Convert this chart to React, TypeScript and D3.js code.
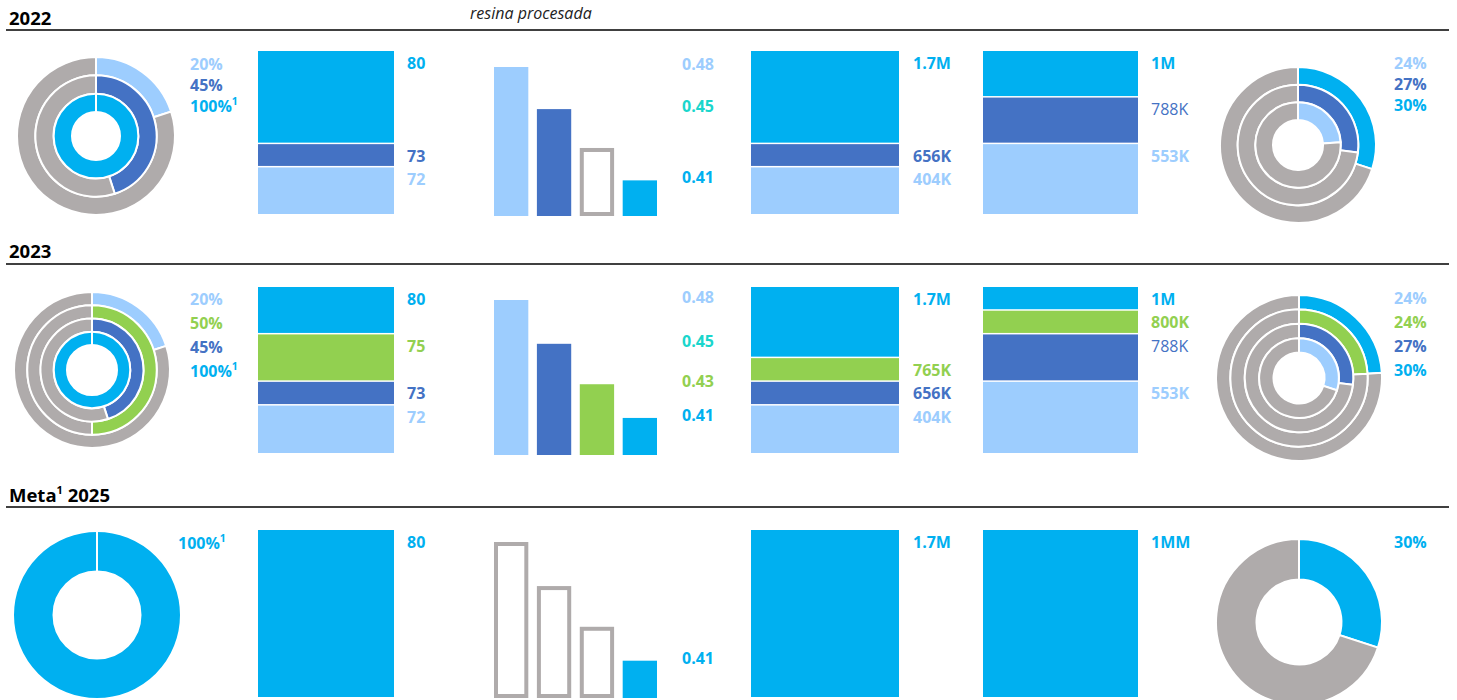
import React from 'react';
import * as d3 from 'd3';

// colours used across the dashboard
const COLORS: Record<string, string> = {
  light: '#9DCDFE',
  dark: '#4472C4',
  green: '#92D050',
  cyan: '#00B0F0',
  gray: '#AFABAB',
  teal: '#1AD6CC',
};

// column 1: ring donut (outer -> inner)
const c1Vals2022 = [20, 45, 100];
const c1Keys2022 = ['light', 'dark', 'cyan'];
const c1Vals2023 = [20, 50, 45, 100];
const c1Keys2023 = ['light', 'green', 'dark', 'cyan'];
const c1ValsMeta = [100];
const c1KeysMeta = ['cyan'];

// column 2: stacked blocks (top -> bottom), units of a 7 step grid
const c2Labels2022 = ['80', '73', '72'];
const c2Units2022 = [4, 1, 2];
const c2Keys2022 = ['cyan', 'dark', 'light'];
const c2Labels2023 = ['80', '75', '73', '72'];
const c2Units2023 = [2, 2, 1, 2];
const c2Keys2023 = ['cyan', 'green', 'dark', 'light'];
const c2LabelsMeta = ['80'];
const c2UnitsMeta = [7];
const c2KeysMeta = ['cyan'];

// column 3: bars
const c3Cats = ['b1', 'b2', 'b3', 'b4'];
const c3Vals = [0.48, 0.454, 0.43, 0.41];
const c3Keys2022 = ['light', 'dark', 'open', 'cyan'];
const c3Labels2022 = ['0.48', '0.45', '', '0.41'];
const c3LabelKeys2022 = ['light', 'teal', '', 'cyan'];
const c3Keys2023 = ['light', 'dark', 'green', 'cyan'];
const c3Labels2023 = ['0.48', '0.45', '0.43', '0.41'];
const c3LabelKeys2023 = ['light', 'teal', 'green', 'cyan'];
const c3KeysMeta = ['open', 'open', 'open', 'cyan'];
const c3LabelsMeta = ['', '', '', '0.41'];
const c3LabelKeysMeta = ['', '', '', 'cyan'];

// column 4: stacked blocks
const c4Labels2022 = ['1.7M', '656K', '404K'];
const c4Units2022 = [4, 1, 2];
const c4Keys2022 = ['cyan', 'dark', 'light'];
const c4Labels2023 = ['1.7M', '765K', '656K', '404K'];
const c4Units2023 = [3, 1, 1, 2];
const c4Keys2023 = ['cyan', 'green', 'dark', 'light'];
const c4LabelsMeta = ['1.7M'];
const c4UnitsMeta = [7];
const c4KeysMeta = ['cyan'];

// column 5: stacked blocks
const c5Labels2022 = ['1M', '788K', '553K'];
const c5Units2022 = [2, 2, 3];
const c5Keys2022 = ['cyan', 'dark', 'light'];
const c5Labels2023 = ['1M', '800K', '788K', '553K'];
const c5Units2023 = [1, 1, 2, 3];
const c5Keys2023 = ['cyan', 'green', 'dark', 'light'];
const c5LabelsMeta = ['1MM'];
const c5UnitsMeta = [7];
const c5KeysMeta = ['cyan'];
const regularLabels = ['788K'];

// column 6: ring donut (outer -> inner) and its legend
const c6Vals2022 = [30, 27, 24];
const c6Keys2022 = ['cyan', 'dark', 'light'];
const c6Labels2022 = ['24%', '27%', '30%'];
const c6LabelKeys2022 = ['light', 'dark', 'cyan'];
const c6Vals2023 = [24, 24, 27, 30];
const c6Keys2023 = ['cyan', 'green', 'dark', 'light'];
const c6Labels2023 = ['24%', '24%', '27%', '30%'];
const c6LabelKeys2023 = ['light', 'green', 'dark', 'cyan'];
const c6ValsMeta = [30];
const c6KeysMeta = ['cyan'];
const c6LabelsMeta = ['30%'];
const c6LabelKeysMeta = ['cyan'];

const FONT = '"Open Sans", Arial, sans-serif';

const Donut = ({ cx, cy, r, r0, values, keys }: any) => {
  const w = (r - r0) / values.length;
  const pie = d3.pie<number>().sort(null);
  return (
    <g transform={`translate(${cx},${cy})`}>
      {values.map((v: number, i: number) => {
        const outer = r - i * w;
        const arc = d3.arc<any>().innerRadius(outer - w).outerRadius(outer);
        return pie([v, 100 - v]).map((a, j) => (
          <path key={`${i}-${j}`} d={arc(a) || ''} fill={j === 0 ? COLORS[keys[i]] : COLORS.gray}
            stroke="#fff" strokeWidth={2} />
        ));
      })}
    </g>
  );
};

const Label = ({ x, y, text, color, sup, weight }: any) => (
  <text x={x} y={y} fill={color} fontFamily={FONT} fontSize={16} fontWeight={weight || 700}>
    {text}
    {sup && <tspan fontSize={10.5} dy={-7}>{sup}</tspan>}
  </text>
);

const Stack = ({ x0, x1, top, bottom, units, keys, labels, labelX }: any) => {
  const y = d3.scaleLinear().domain([0, d3.sum(units) as number]).range([top, bottom]);
  let acc = 0;
  return (
    <g>
      {units.map((u: number, i: number) => {
        const y0 = y(acc);
        const y1 = y(acc + u);
        acc += u;
        return (
          <g key={i}>
            <rect x={x0} y={y0} width={x1 - x0} height={y1 - y0 - (i < units.length - 1 ? 1.5 : 0)}
              fill={COLORS[keys[i]]} />
            <Label x={labelX} y={y0 + 17.5} text={labels[i]} color={COLORS[keys[i]]}
              weight={regularLabels.includes(labels[i]) ? 400 : 700} />
          </g>
        );
      })}
    </g>
  );
};

const Bars = ({ top, bottom, keys, labels, labelKeys }: any) => {
  const x = d3.scaleBand().domain(c3Cats).range([494, 657]).paddingInner(0.2);
  const y = d3.scaleLinear().domain([0.388, 0.48]).range([bottom, top]);
  return (
    <g>
      {c3Cats.map((c, i) => {
        const open = keys[i] === 'open';
        const bx = x(c) as number;
        const by = y(c3Vals[i]);
        return (
          <g key={c}>
            {open ? (
              <rect x={bx + 2} y={by + 2} width={x.bandwidth() - 4} height={bottom - by - 4}
                fill="#fff" stroke={COLORS.gray} strokeWidth={4} />
            ) : (
              <rect x={bx} y={by} width={x.bandwidth()} height={bottom - by} fill={COLORS[keys[i]]} />
            )}
            {labels[i] && <Label x={682} y={by + 3} text={labels[i]} color={COLORS[labelKeys[i]]} />}
          </g>
        );
      })}
    </g>
  );
};

const rows = [
  {
    header: '2022', headerY: 25, lineY: 30, top: 51, bottom: 214, barTop: 67, barBottom: 216,
    d1: { cx: 96, cy: 136, r: 79, r0: 24 }, d6: { cx: 1298, cy: 145, r: 78, r0: 25 },
    labY: 70, labStep: 21, lab1X: 190,
    c1: [c1Vals2022, c1Keys2022], c2: [c2Labels2022, c2Units2022, c2Keys2022],
    c3: [c3Keys2022, c3Labels2022, c3LabelKeys2022], c4: [c4Labels2022, c4Units2022, c4Keys2022],
    c5: [c5Labels2022, c5Units2022, c5Keys2022], c6: [c6Vals2022, c6Keys2022, c6Labels2022, c6LabelKeys2022],
  },
  {
    header: '2023', headerY: 258, lineY: 264, top: 287, bottom: 453, barTop: 300, barBottom: 455,
    d1: { cx: 92, cy: 370, r: 78, r0: 25 }, d6: { cx: 1299, cy: 378, r: 83, r0: 25.5 },
    labY: 305, labStep: 24, lab1X: 190,
    c1: [c1Vals2023, c1Keys2023], c2: [c2Labels2023, c2Units2023, c2Keys2023],
    c3: [c3Keys2023, c3Labels2023, c3LabelKeys2023], c4: [c4Labels2023, c4Units2023, c4Keys2023],
    c5: [c5Labels2023, c5Units2023, c5Keys2023], c6: [c6Vals2023, c6Keys2023, c6Labels2023, c6LabelKeys2023],
  },
  {
    header: 'Meta', headerY: 502, lineY: 507, top: 530, bottom: 697, barTop: 542, barBottom: 698,
    d1: { cx: 97, cy: 615, r: 84, r0: 43.5 }, d6: { cx: 1299, cy: 622, r: 83, r0: 42.5 },
    labY: 549, labStep: 24, lab1X: 178,
    c1: [c1ValsMeta, c1KeysMeta], c2: [c2LabelsMeta, c2UnitsMeta, c2KeysMeta],
    c3: [c3KeysMeta, c3LabelsMeta, c3LabelKeysMeta], c4: [c4LabelsMeta, c4UnitsMeta, c4KeysMeta],
    c5: [c5LabelsMeta, c5UnitsMeta, c5KeysMeta], c6: [c6ValsMeta, c6KeysMeta, c6LabelsMeta, c6LabelKeysMeta],
  },
];

export default function App() {
  return (
    <svg width={1457} height={700} style={{ position: 'absolute', left: 0, top: 0, display: 'block' }}>
      <rect width={1457} height={700} fill="#fff" />
      <text x={470} y={19} fontFamily={FONT} fontStyle="italic" fontSize={16} fill="#222">resina procesada</text>
      {rows.map((row) => (
        <g key={row.header}>
          <text x={9} y={row.headerY} fontFamily={FONT} fontWeight={700} fontSize={18.5} fill="#000">
            {row.header}
            {row.header === 'Meta' && <tspan fontSize={11} dy={-8}>1</tspan>}
            {row.header === 'Meta' && <tspan dy={8}> 2025</tspan>}
          </text>
          <line x1={6} x2={1449} y1={row.lineY} y2={row.lineY} stroke="#000" strokeWidth={1.3} />

          <Donut {...row.d1} values={row.c1[0]} keys={row.c1[1]} />
          {(row.c1[0] as number[]).map((v, i) => (
            <Label key={i} x={row.lab1X} y={row.labY + i * row.labStep} text={`${v}%`}
              color={COLORS[(row.c1[1] as string[])[i]]} sup={v === 100 ? '1' : undefined} />
          ))}

          <Stack x0={258} x1={394} top={row.top} bottom={row.bottom} units={row.c2[1]} keys={row.c2[2]}
            labels={row.c2[0]} labelX={407} />

          <Bars top={row.barTop} bottom={row.barBottom} keys={row.c3[0]} labels={row.c3[1]} labelKeys={row.c3[2]} />

          <Stack x0={751} x1={899} top={row.top} bottom={row.bottom} units={row.c4[1]} keys={row.c4[2]}
            labels={row.c4[0]} labelX={913} />

          <Stack x0={983} x1={1138} top={row.top} bottom={row.bottom} units={row.c5[1]} keys={row.c5[2]}
            labels={row.c5[0]} labelX={1151} />

          <Donut {...row.d6} values={row.c6[0]} keys={row.c6[1]} />
          {(row.c6[2] as string[]).map((t, i) => (
            <Label key={i} x={1394} y={row.labY - 1 + i * row.labStep} text={t}
              color={COLORS[(row.c6[3] as string[])[i]]} />
          ))}
        </g>
      ))}
    </svg>
  );
}
